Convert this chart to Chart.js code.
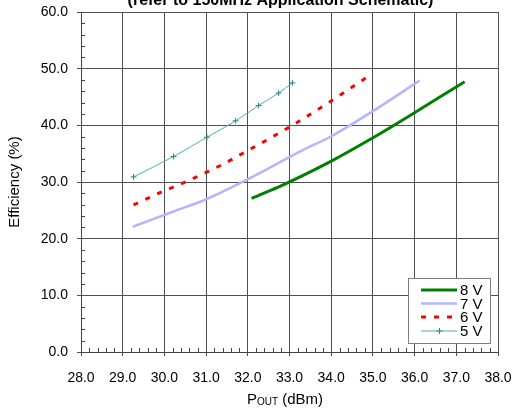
<!DOCTYPE html>
<html><head><meta charset="utf-8">
<script src="https://cdn.jsdelivr.net/npm/chart.js@4.4.0/dist/chart.umd.min.js"></script>
<style>html,body{margin:0;padding:0;background:#fff;}#wrap{width:514px;height:409px;position:relative;}</style>
</head><body><div id="wrap"><canvas id="c" width="514" height="409"></canvas></div>
<script>
const titleText = "(refer to 150MHz Application Schematic)";
const yTitle = "Efficiency (%)";
const seriesNames = ["8 V", "7 V", "6 V", "5 V"];
const xTicks = [28, 29, 30, 31, 32, 33, 34, 35, 36, 37, 38];
const yTicks = [0, 10, 20, 30, 40, 50, 60];

const x8 = [32.09, 32.85, 33.98, 35.0, 35.97, 37.2];
const y8 = [27.1, 29.5, 33.6, 37.8, 42.1, 47.7];
const x7 = [29.24, 30.22, 31.02, 31.98, 33.34, 33.96, 35.0, 36.12];
const y7 = [22.1, 24.8, 27.0, 30.4, 35.7, 37.9, 42.5, 47.9];
const x6 = [29.26, 29.92, 30.53, 31.42, 32.01, 32.6, 33.18, 34.02, 34.86];
const y6 = [25.96, 28.2, 30.1, 33.2, 35.6, 38.0, 40.5, 44.4, 48.5];
const x5 = [29.26, 30.22, 31.02, 31.71, 32.26, 32.74, 33.07];
const y5 = [30.9, 34.5, 37.9, 40.8, 43.5, 45.7, 47.5];

const FONT = "'Liberation Sans', Arial, sans-serif";
function pts(xs, ys){ return xs.map((x,i)=>({x:x, y:ys[i]})); }

const datasets = [
  {label: seriesNames[0], data: pts(x8,y8), borderColor:'#008000', borderWidth:3, pointRadius:0, tension:0.2},
  {label: seriesNames[1], data: pts(x7,y7), borderColor:'#b4b4ff', borderWidth:2.5, pointRadius:0, cubicInterpolationMode:'monotone'},
  {label: seriesNames[2], data: pts(x6,y6), borderColor:'#ff0000', borderWidth:3, borderDash:[5,8], pointRadius:0, cubicInterpolationMode:'monotone'},
  {label: seriesNames[3], data: pts(x5,y5), borderColor:'#55aaaa', borderWidth:1, pointStyle:'cross', pointRadius:3, pointBorderColor:'#2a8888', pointBorderWidth:1, cubicInterpolationMode:'monotone'}
];

const extras = {
  id:'extras',
  afterDraw(chart){
    const ctx = chart.ctx, a = chart.chartArea, xs = chart.scales.x, ys = chart.scales.y;
    ctx.save();
    // minor ticks
    ctx.strokeStyle = '#444'; ctx.lineWidth = 1;
    ctx.beginPath();
    for (let v = 0; v <= 60.001; v += 2) {
      if (Math.abs(v % 10) < 0.001) continue;
      const y = Math.round(ys.getPixelForValue(v)) + 0.5;
      ctx.moveTo(a.left, y); ctx.lineTo(a.left + 4, y);
    }
    for (let i = 0; i <= 50; i++) {
      if (i % 5 === 0) continue;
      const x = Math.round(xs.getPixelForValue(28 + i*0.2)) + 0.5;
      ctx.moveTo(x, a.bottom); ctx.lineTo(x, a.bottom - 4);
    }
    ctx.stroke();
    // title (cut off at top)
    ctx.fillStyle = '#000';
    ctx.font = 'bold 16px ' + FONT;
    ctx.textAlign = 'center'; ctx.textBaseline = 'alphabetic';
    ctx.fillText(titleText, (a.left + a.right)/2 - 9, 5);
    // x title with subscript
    ctx.textAlign = 'left';
    const big = '15px ' + FONT, small = '10px ' + FONT;
    ctx.font = big; const wP = ctx.measureText('P').width; const wR = ctx.measureText(' (dBm)').width;
    ctx.font = small; const wS = ctx.measureText('OUT').width;
    let x0 = 285 - (wP + wS + wR)/2; const by = 404;
    ctx.font = big; ctx.fillText('P', x0, by); x0 += wP;
    ctx.font = small; ctx.fillText('OUT', x0, by + 1); x0 += wS;
    ctx.font = big; ctx.fillText(' (dBm)', x0, by);
    // legend
    const lx = 408, ly = 278, lw = 82, lh = 65;
    ctx.fillStyle = '#fff'; ctx.fillRect(lx, ly, lw, lh);
    ctx.strokeStyle = '#808080'; ctx.lineWidth = 1;
    ctx.strokeRect(lx + 0.5, ly + 0.5, lw, lh);
    const rows = [290, 303.5, 317, 331];
    datasets.forEach((d, i) => {
      const y = rows[i];
      ctx.save();
      ctx.strokeStyle = d.borderColor; ctx.lineWidth = d.borderWidth;
      ctx.setLineDash(d.borderDash || []);
      ctx.beginPath(); ctx.moveTo(421, y); ctx.lineTo(457, y); ctx.stroke();
      ctx.restore();
      if (d.pointStyle === 'cross') {
        ctx.strokeStyle = d.pointBorderColor; ctx.lineWidth = 1;
        ctx.beginPath(); ctx.moveTo(439.5, y - 3); ctx.lineTo(439.5, y + 3);
        ctx.moveTo(436.5, y); ctx.lineTo(442.5, y); ctx.stroke();
      }
      ctx.fillStyle = '#000'; ctx.font = '15px ' + FONT;
      ctx.textAlign = 'left'; ctx.textBaseline = 'middle';
      ctx.fillText(d.label, 460, y + 1);
    });
    ctx.restore();
  }
};

new Chart(document.getElementById('c'), {
  type: 'line',
  data: { datasets },
  options: {
    responsive: false, animation: false,
    layout: { padding: { top: 12, right: 16, left: 0, bottom: 0 } },
    plugins: { legend: { display: false }, tooltip: { enabled: false } },
    scales: {
      x: {
        type: 'linear', min: 28, max: 38,
        afterBuildTicks(s){ s.ticks = xTicks.map(v => ({value: v})); },
        afterFit(s){ s.height = 57; s.paddingRight = 0; s.paddingLeft = 0; },
        grid: { color: '#505050', lineWidth: 1, tickLength: 4, drawTicks: true },
        border: { color: '#444' },
        ticks: { color: '#000', font: { family: FONT, size: 14 }, padding: 14, maxRotation: 0,
                 callback: v => Number(v).toFixed(1) }
      },
      y: {
        min: 0, max: 60,
        afterBuildTicks(s){ s.ticks = yTicks.map(v => ({value: v})); },
        afterFit(s){ s.width = 81; s.paddingTop = 0; s.paddingBottom = 0; },
        grid: { color: '#505050', lineWidth: 1, tickLength: 4 },
        border: { color: '#444' },
        title: { display: true, text: yTitle, color: '#000', font: { family: FONT, size: 15 }, padding: { top: 6, bottom: 10 } },
        ticks: { color: '#000', font: { family: FONT, size: 14 }, padding: 9,
                 callback: v => Number(v).toFixed(1) }
      }
    }
  },
  plugins: [extras]
});
</script></body></html>
